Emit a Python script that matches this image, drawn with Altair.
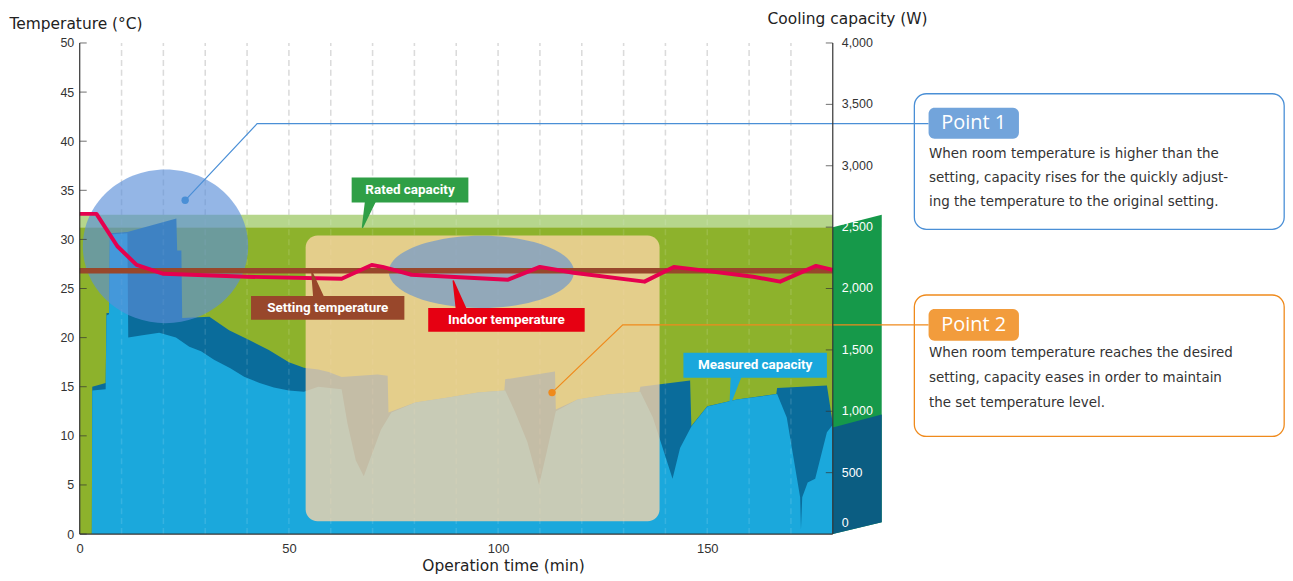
import altair as alt
import pandas as pd

# ---------------- data ----------------
grid_minutes = [10, 20, 30, 40, 50, 60, 70, 80, 90, 100, 110, 120, 130, 140, 150, 160, 170]
temp_ticks = [0, 5, 10, 15, 20, 25, 30, 35, 40, 45, 50]
cap_ticks = [0, 500, 1000, 1500, 2000, 2500, 3000, 3500, 4000]
time_ticks = [0, 50, 100, 150]

indoor_time = [0, 4, 9, 13.6, 20, 40, 62.6, 69.8, 72.4, 79.3, 102.4, 110, 118, 135, 142, 146, 161, 167.4, 176, 180]
indoor_temp = [32.6, 32.6, 29.3, 27.4, 26.5, 26.2, 26.0, 27.4, 27.2, 26.4, 25.9, 27.2, 26.6, 25.7, 27.2, 27.0, 26.2, 25.7, 27.3, 26.9]
setting_time = [0, 180]
setting_temp = [26.8, 26.8]

rated_capacity = 2500
rated_top = 2600

# measured capacity: front face (light) and raised top faces (dark)
front_time = [0, 2.9, 3.0, 6.2, 6.4, 7.0, 7.2, 11.4, 11.6, 15, 19, 23, 26.2, 29, 32.1, 36, 39.3, 43, 46.4,
              50, 53.6, 57, 62.6, 64, 66, 67.9, 69.5, 72, 74.5, 80.2, 88.1, 95.2, 101.7, 104, 107, 109.8,
              111.5, 113.8, 119, 126.2, 134, 137, 141.7, 143.5, 146.2, 150, 157.1, 166.7, 169, 172.2,
              172.4, 172.7, 174, 175.8, 178.6, 180]
front_cap = [0, 0, 1170, 1180, 1780, 1790, 2440, 2450, 1600, 1620, 1640, 1600, 1525, 1490, 1420, 1350, 1282,
             1230, 1193, 1170, 1160, 1200, 1180, 900, 600, 470, 620, 850, 990, 1071, 1112, 1152, 1170, 1000,
             750, 400, 650, 1000, 1095, 1136, 1160, 950, 450, 700, 876, 1039, 1095, 1140, 950, 300, 40, 300,
             420, 450, 830, 890]
back_time = [0, 2.9, 3.0, 6.2, 6.4, 7.0, 7.2, 11.4, 23.1, 23.3, 24.3, 24.5, 31.0, 35.7, 40.5, 45.2, 50.0,
             53.6, 57, 59.5, 62.6, 71.2, 73.6, 73.8, 80.2, 88.1, 95.2, 101.5, 101.7, 113.6, 113.8, 119,
             126.2, 133.8, 134, 145.9, 146.2, 150, 157.1, 166.5, 166.7, 178.6, 180]
back_cap = [0, 0, 1200, 1230, 1800, 1800, 2450, 2460, 2570, 2310, 2310, 1760, 1770, 1660, 1580, 1500, 1400,
            1355, 1340, 1320, 1280, 1300, 1290, 990, 1071, 1112, 1152, 1170, 1260, 1325, 1015, 1095, 1136,
            1160, 1200, 1250, 880, 1040, 1095, 1140, 1190, 1210, 900]

side_time = [180, 191.7]
side_top = [2500, 2600]
side_blue_top = [868, 974]
side_bottom = [0, 97]

# annotations (data units)
beige_box = dict(x1=54.0, x2=138.6, y1=1.3, y2=30.4)
ellipse1 = dict(t=20.5, c=29.3)
ellipse2 = dict(t=96.0, c=26.7)

callout_label = ["Rated capacity", "Setting temperature", "Indoor temperature", "Measured capacity"]
callout_color = ["#2f9f46", "#98472b", "#e60012", "#1aa7dc"]
callout_x1 = [65.0, 40.95, 83.3, 144.3]
callout_x2 = [92.9, 77.6, 120.7, 178.6]
callout_y1 = [33.77, 21.81, 20.59, 15.92]
callout_y2 = [36.31, 24.24, 23.02, 18.46]
callout_base_t = [69.5, 57.1, 91.2, 156.9]
callout_base_c = [33.97, 24.04, 22.82, 16.13]
callout_tip_t = [67.6, 55.5, 89.3, 155.5]
callout_tip_c = [31.24, 26.67, 25.76, 13.29]

point_names = ["Point 1", "Point 2"]
point_color = ["#4a8fd6", "#ef8a1c"]
point_badge = ["#72a4db", "#f29c3c"]
point_leader_t = [[25.2, 42.4, 202.9], [112.9, 129.8, 202.9]]
point_leader_c = [[33.98, 41.78, 41.78], [14.40, 21.30, 21.30]]
point_box_t = [199.5, 287.9]
point_box_c = [[31.03, 44.83], [9.94, 24.34]]
point_badge_t = [202.9, 224.5]
point_badge_c = [[40.26, 43.41], [19.68, 22.92]]
point_text = [
    ["When room temperature is higher than the",
     "setting, capacity rises for the quickly adjust-",
     "ing the temperature to the original setting."],
    ["When room temperature reaches the desired",
     "setting, capacity eases in order to maintain",
     "the set temperature level."],
]
point_text_c = [[38.74, 36.21, 33.77], [18.46, 15.92, 13.39]]

# ---------------- tables ----------------
XS = alt.Scale(domain=[0, 180], nice=False, zero=False)
YT = alt.Scale(domain=[0, 50], nice=False, zero=False)
YW = alt.Scale(domain=[0, 4000], nice=False, zero=False)

grid_df = pd.DataFrame({"t": grid_minutes, "y1": 0, "y2": 4000})
green_df = pd.DataFrame({"t1": [0], "t2": [180], "y1": [0], "y2": [rated_capacity]})
strip_df = pd.DataFrame({"t1": [0], "t2": [180], "y1": [rated_capacity], "y2": [rated_top]})
side_df = pd.DataFrame({"t": side_time, "top": side_top, "blue": side_blue_top, "bot": side_bottom})
front_df = pd.DataFrame({"t": front_time, "w": front_cap})
back_df = pd.DataFrame({"t": back_time, "w": back_cap})
rtick_df = pd.DataFrame({"t": 180, "w": cap_ticks[1:]})
rlab_df = pd.DataFrame({"t": 180, "w": cap_ticks[1:]})
rlab_df["lc"] = ["white" if v <= rated_capacity else "#333" for v in cap_ticks[1:]]
rzero_df = pd.DataFrame({"t": [180], "w": [cap_ticks[0]]})
ltick_df = pd.DataFrame({"t": 0, "c": temp_ticks})
frame_df = pd.DataFrame({"t1": [0, 180, 0], "t2": [0, 180, 180], "c1": [0, 0, 0], "c2": [50, 50, 0]})

indoor_df = pd.DataFrame({"t": indoor_time, "c": indoor_temp})
setting_df = pd.DataFrame({"t": setting_time, "c": setting_temp})
beige_df = pd.DataFrame([beige_box])
ell1_df = pd.DataFrame([ellipse1])
ell2_df = pd.DataFrame([ellipse2])

callout_df = pd.DataFrame({"label": callout_label, "col": callout_color, "x1": callout_x1, "x2": callout_x2,
                           "y1": callout_y1, "y2": callout_y2})
callout_df["tx"] = (callout_df.x1 + callout_df.x2) / 2
callout_df["ty"] = (callout_df.y1 + callout_df.y2) / 2
tail_rows = []
for i in range(4):
    tail_rows.append({"id": i, "t": callout_base_t[i], "c": callout_base_c[i], "w": 11, "col": callout_color[i]})
    tail_rows.append({"id": i, "t": callout_tip_t[i], "c": callout_tip_c[i], "w": 1.5, "col": callout_color[i]})
tail_df = pd.DataFrame(tail_rows)

leader_rows, dot_rows, box_rows, badge_rows, body_rows = [], [], [], [], []
for i in range(2):
    for k in range(3):
        leader_rows.append({"id": i, "o": k, "t": point_leader_t[i][k], "c": point_leader_c[i][k], "col": point_color[i]})
    dot_rows.append({"t": point_leader_t[i][0], "c": point_leader_c[i][0], "col": point_color[i]})
    box_rows.append({"x1": point_box_t[0], "x2": point_box_t[1], "y1": point_box_c[i][0], "y2": point_box_c[i][1],
                     "col": point_color[i]})
    badge_rows.append({"x1": point_badge_t[0], "x2": point_badge_t[1], "y1": point_badge_c[i][0],
                       "y2": point_badge_c[i][1], "col": point_badge[i], "name": point_names[i],
                       "tx": (point_badge_t[0] + point_badge_t[1]) / 2,
                       "ty": (point_badge_c[i][0] + point_badge_c[i][1]) / 2})
    for k in range(3):
        body_rows.append({"t": point_leader_t[i][2] + 0.1, "c": point_text_c[i][k], "txt": point_text[i][k]})
leader_df = pd.DataFrame(leader_rows)
dot_df = pd.DataFrame(dot_rows)
pbox_df = pd.DataFrame(box_rows)
badge_df = pd.DataFrame(badge_rows)
body_df = pd.DataFrame(body_rows)

# ---------------- axes ----------------
x_axis = alt.Axis(values=time_ticks, ticks=False, grid=False, domain=False, labelFontSize=13,
                  labelPadding=9, labelColor="#333", labelFlush=False, title="Operation time (min)",
                  titleFontSize=15.5, titleFontWeight="normal", titleColor="#222", titleX=425, titleY=37,
                  titleBaseline="alphabetic", titleAlign="center")

right_axis = alt.Axis(orient="right", values=cap_ticks, ticks=False, grid=False, labels=False, domain=False,
                      title="Cooling capacity (W)", titleAngle=0, titleAlign="left", titleBaseline="alphabetic",
                      titleX=-66, titleY=-20, titleFontSize=15.5, titleFontWeight="normal", titleColor="#222")

left_axis = alt.Axis(orient="left", values=temp_ticks, ticks=False, grid=False, domain=False,
                     labelPadding=6, labelFontSize=12.5, labelColor="#333", labelFlush=False,
                     title="Temperature (°C)", titleAngle=0, titleAlign="left", titleBaseline="alphabetic",
                     titleX=-71, titleY=-15, titleFontSize=15.5, titleFontWeight="normal", titleColor="#222")


def XQ(f):
    # the shared x axis is declared identically on every layer so that the merged axis survives
    return alt.X(f, type="quantitative", scale=XS, axis=x_axis)


def YWQ(f, axis=None):
    return alt.Y(f, type="quantitative", scale=YW, axis=axis)


def YTQ(f, axis=None):
    return alt.Y(f, type="quantitative", scale=YT, axis=axis)


# ---------------- capacity layers ----------------
grid = alt.Chart(grid_df).mark_rule(color="#d6d6d6", strokeDash=[6, 4], strokeWidth=1.5).encode(
    x=XQ("t"), y=YWQ("y1"), y2="y2:Q")
green = alt.Chart(green_df).mark_rect(color="#8db22c").encode(
    x=XQ("t1"), x2="t2:Q", y=YWQ("y1", right_axis), y2="y2:Q")
strip = alt.Chart(strip_df).mark_rect(color="#b6d68c").encode(
    x=XQ("t1"), x2="t2:Q", y=YWQ("y1"), y2="y2:Q")
side_green = alt.Chart(side_df).mark_area(color="#16994a").encode(
    x=XQ("t"), y=YWQ("top"), y2="bot:Q")
side_blue = alt.Chart(side_df).mark_area(color="#0b5d82").encode(
    x=XQ("t"), y=YWQ("blue"), y2="bot:Q")
back = alt.Chart(back_df).mark_area(color="#0a6c9b").encode(x=XQ("t"), y=YWQ("w"))
front = alt.Chart(front_df).mark_area(color="#1ba8dc").encode(x=XQ("t"), y=YWQ("w"))
grid_overlay = alt.Chart(grid_df).mark_rule(color="white", opacity=0.12, strokeDash=[6, 4], strokeWidth=1.5).encode(
    x=XQ("t"), y=YWQ("y1"), y2="y2:Q")
rticks = alt.Chart(rtick_df).mark_tick(orient="horizontal", size=7, thickness=1, xOffset=-3.5, color="#333").encode(
    x=XQ("t"), y=YWQ("w"))
rlabels = alt.Chart(rlab_df).mark_text(align="left", baseline="middle", dx=9, font="Liberation Sans",
                                       fontSize=12.5).encode(
    x=XQ("t"), y=YWQ("w"), text=alt.Text("w:Q", format=","), color=alt.Color("lc:N", scale=None))
rzero = alt.Chart(rzero_df).mark_text(align="left", baseline="middle", dx=9, dy=-11, font="Liberation Sans",
                                      fontSize=12.5, color="white").encode(
    x=XQ("t"), y=YWQ("w"), text=alt.Text("w:Q", format=","))

# ---------------- temperature layers ----------------
beige = alt.Chart(beige_df).mark_rect(color="#ffd6aa", opacity=0.76, cornerRadius=12).encode(
    x=XQ("x1"), x2="x2:Q", y=YTQ("y1", left_axis), y2="y2:Q")
ell2 = alt.Chart(ell2_df).mark_point(
    shape="M-1,0A1,0.39,0,1,0,1,0A1,0.39,0,1,0,-1,0Z", filled=True, size=186 * 186,
    color="#5b8fd8", opacity=0.6, strokeWidth=0).encode(x=XQ("t"), y=YTQ("c"))
ell1 = alt.Chart(ell1_df).mark_point(
    shape="M-1,0A1,0.93,0,1,0,1,0A1,0.93,0,1,0,-1,0Z", filled=True, size=166 * 166,
    color="#5b8fd8", opacity=0.65, strokeWidth=0).encode(x=XQ("t"), y=YTQ("c"))
setting = alt.Chart(setting_df).mark_line(color="#98472b", strokeWidth=5.5).encode(x=XQ("t"), y=YTQ("c"))
indoor = alt.Chart(indoor_df).mark_line(color="#e5004f", strokeWidth=4, strokeJoin="round").encode(
    x=XQ("t"), y=YTQ("c"))
tails = alt.Chart(tail_df).mark_trail().encode(
    x=XQ("t"), y=YTQ("c"), size=alt.Size("w:Q", scale=None), detail="id:N",
    color=alt.Color("col:N", scale=None))
cboxes = alt.Chart(callout_df).mark_rect().encode(
    x=XQ("x1"), x2="x2:Q", y=YTQ("y1"), y2="y2:Q", color=alt.Color("col:N", scale=None))
ctext = alt.Chart(callout_df).mark_text(color="white", font="Roboto", fontWeight="bold", fontSize=13.5,
                                        baseline="middle", align="center").encode(
    x=XQ("tx"), y=YTQ("ty"), text="label:N")
leaders = alt.Chart(leader_df).mark_line(strokeWidth=1.2).encode(
    x=XQ("t"), y=YTQ("c"), detail="id:N", order="o:Q", color=alt.Color("col:N", scale=None))
dots = alt.Chart(dot_df).mark_circle(size=55, opacity=1).encode(
    x=XQ("t"), y=YTQ("c"), color=alt.Color("col:N", scale=None))
pboxes = alt.Chart(pbox_df).mark_rect(filled=False, strokeWidth=1.3, cornerRadius=12).encode(
    x=XQ("x1"), x2="x2:Q", y=YTQ("y1"), y2="y2:Q", color=alt.Color("col:N", scale=None))
badges = alt.Chart(badge_df).mark_rect(cornerRadius=6).encode(
    x=XQ("x1"), x2="x2:Q", y=YTQ("y1"), y2="y2:Q", color=alt.Color("col:N", scale=None))
badge_text = alt.Chart(badge_df).mark_text(color="white", font="Open Sans", fontSize=20,
                                           baseline="middle", align="center").encode(
    x=XQ("tx"), y=YTQ("ty"), text="name:N")
body = alt.Chart(body_df).mark_text(color="#333", font="DejaVu Sans", fontSize=13.5,
                                    baseline="middle", align="left").encode(
    x=XQ("t"), y=YTQ("c"), text="txt:N")
lticks = alt.Chart(ltick_df).mark_tick(orient="horizontal", size=7, thickness=1, xOffset=3.5, color="#333").encode(
    x=XQ("t"), y=YTQ("c"))
frame = alt.Chart(frame_df).mark_rule(color="#333", strokeWidth=1.2).encode(
    x=XQ("t1"), x2="t2:Q", y=YTQ("c1"), y2="c2:Q")

chart = alt.layer(
    grid, green, strip, side_green, side_blue, back, front, grid_overlay, rticks, rlabels, rzero,
    beige, ell2, ell1, setting, indoor, tails, cboxes, ctext, leaders, dots,
    pboxes, badges, badge_text, body, lticks, frame
).resolve_scale(y="independent").properties(
    width=756, height=493, padding={"left": 1, "top": 2, "right": 0, "bottom": 0}
).configure_view(stroke=None).configure_axis(labelFont="Liberation Sans", titleFont="DejaVu Sans")

chart.save("out.html", embed_options={"renderer": "svg", "actions": False})
